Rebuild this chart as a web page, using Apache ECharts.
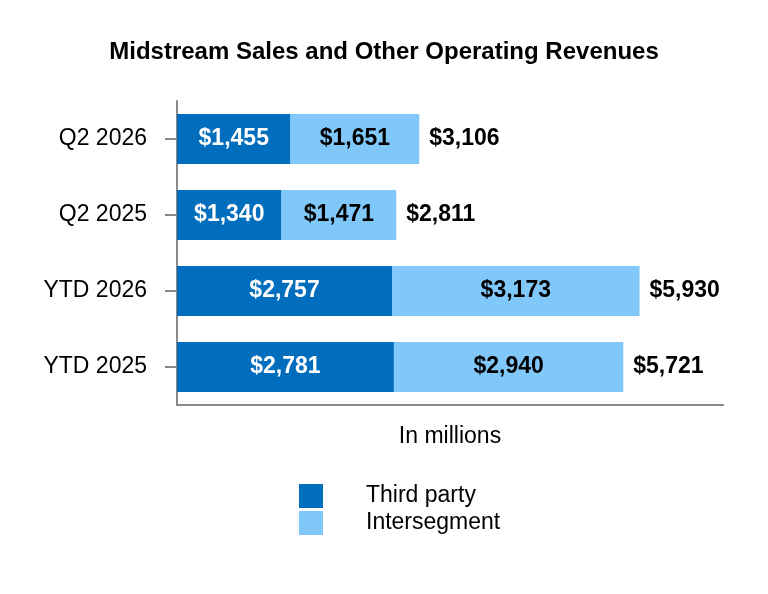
<!DOCTYPE html>
<html>
<head>
<meta charset="utf-8">
<script src="https://cdn.jsdelivr.net/npm/echarts@6/dist/echarts.min.js"></script>
<style>
  html, body { margin: 0; padding: 0; background: #fff; }
  #main { width: 768px; height: 594px; }
</style>
</head>
<body>
<div id="main"></div>
<script>
var categories = ['YTD 2025', 'YTD 2026', 'Q2 2025', 'Q2 2026'];
var thirdParty = [2781, 2757, 1340, 1455];
var intersegment = [2940, 3173, 1471, 1651];
var totals = [5721, 5930, 2811, 3106];

function money(v) {
  return '$' + v.toLocaleString('en-US');
}

var chart = echarts.init(document.getElementById('main'));

var option = {
  backgroundColor: '#fff',
  textStyle: { fontFamily: 'Liberation Sans, Arial, sans-serif' },
  title: {
    text: 'Midstream Sales and Other Operating Revenues',
    left: 'center',
    top: 35,
    textStyle: { fontSize: 24, fontWeight: 'bold', color: '#000' }
  },
  legend: {
    orient: 'vertical',
    left: 294,
    top: 479,
    itemWidth: 24,
    itemHeight: 24,
    itemGap: 3,
    icon: 'rect',
    textStyle: { fontSize: 23, color: '#000', padding: [0, 0, 0, 38] },
    data: ['Third party', 'Intersegment']
  },
  grid: {
    left: 177,
    right: 45,
    top: 101,
    bottom: 189
  },
  xAxis: {
    type: 'value',
    min: 0,
    max: 7000,
    name: 'In millions',
    nameLocation: 'middle',
    nameGap: 20,
    nameTextStyle: { fontSize: 23, color: '#000' },
    axisLine: { show: true, lineStyle: { color: '#888', width: 2 } },
    axisTick: { show: false },
    axisLabel: { show: false },
    splitLine: { show: false }
  },
  yAxis: {
    type: 'category',
    data: categories,
    axisLine: { show: true, lineStyle: { color: '#888', width: 2 } },
    axisTick: { show: true, length: 12, lineStyle: { color: '#888', width: 2 }, alignWithLabel: true },
    axisLabel: { fontSize: 23, color: '#000', margin: 30 }
  },
  series: [
    {
      name: 'Third party',
      type: 'bar',
      stack: 'total',
      barWidth: 50,
      data: thirdParty,
      itemStyle: { color: '#006ebd' },
      label: {
        show: true,
        position: 'inside',
        color: '#fff',
        fontSize: 23,
        fontWeight: 'bold',
        formatter: function (p) { return money(p.value); }
      }
    },
    {
      name: 'Intersegment',
      type: 'bar',
      stack: 'total',
      barWidth: 50,
      data: intersegment,
      itemStyle: { color: '#80c7fa' },
      label: {
        show: true,
        position: 'inside',
        color: '#000',
        fontSize: 23,
        fontWeight: 'bold',
        formatter: function (p) { return money(p.value); }
      }
    },
    {
      name: 'Total',
      type: 'bar',
      stack: 'total',
      barWidth: 50,
      data: totals.map(function () { return 0; }),
      itemStyle: { color: 'transparent' },
      label: {
        show: true,
        position: 'right',
        distance: 10,
        color: '#000',
        fontSize: 23,
        fontWeight: 'bold',
        formatter: function (p) { return money(totals[p.dataIndex]); }
      }
    }
  ]
};

chart.setOption(option);
</script>
</body>
</html>
